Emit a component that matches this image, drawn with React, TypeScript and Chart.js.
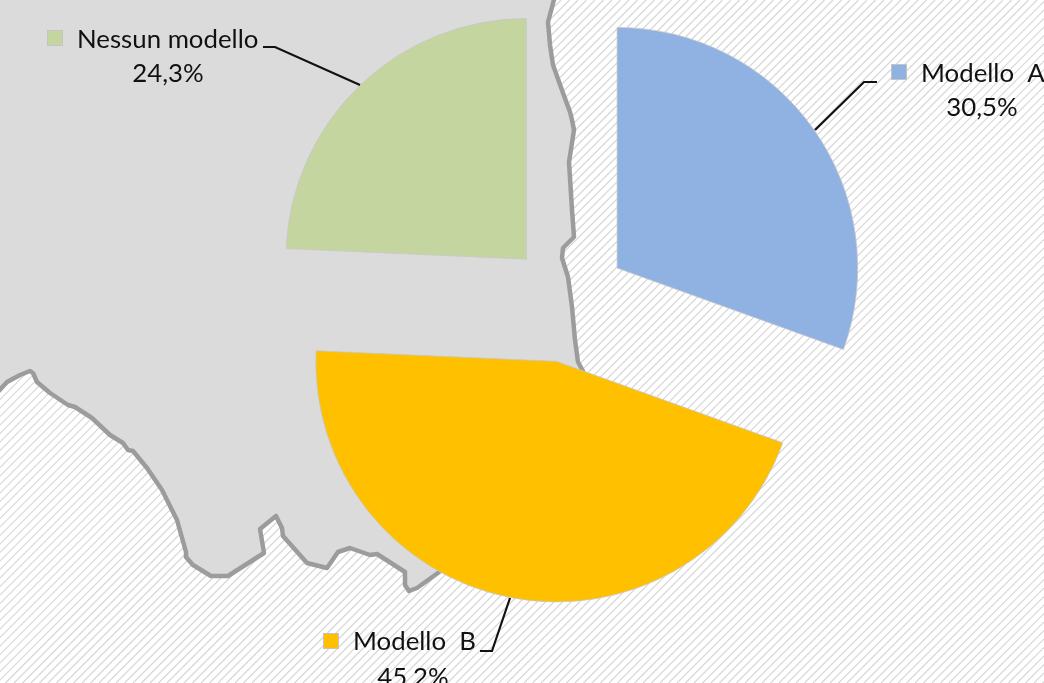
import React, { useEffect, useRef } from "react";
import { Chart, registerables } from "chart.js";

Chart.register(...registerables);

const categories = ["Modello  A", "Modello  B", "Nessun modello"];
const shares = [30.5, 45.2, 24.3];
const shareLabels = ["30,5%", "45,2%", "24,3%"];
const sliceColors = ["#8FB2E2", "#FFC000", "#C4D59F"];

const RADIUS = 240.6;
const EXPLODE = 60;

const upperCoast: number[][] = [
  [555, -4], [548, 22], [550, 45], [553, 65], [563, 93], [570, 112], [572, 120], [574, 130], [569, 162],
  [572, 210], [574, 237], [563, 248], [562, 258], [568, 277], [572, 307], [575, 340], [578, 362], [584, 373],
];
const lowerCoast: number[][] = [
  [-4, 394], [7, 382], [20, 375], [30, 371], [33, 373], [37, 382], [50, 393], [68, 405], [75, 407], [92, 418],
  [110, 435], [123, 443], [128, 450], [133, 451], [147, 468], [162, 490], [177, 520], [186, 552], [186, 557],
  [193, 565], [211, 576], [228, 576], [264, 553], [260, 529], [276, 516], [282, 528], [283, 536], [307, 563],
  [327, 568], [338, 552], [350, 548], [370, 555], [377, 554], [405, 572], [405, 585], [409, 591], [417, 588], [442, 570],
];

const labelLayout = [
  { box: [891, 64], textX: 921, nameY: 74, valueX: 982, valueY: 108, leader: [[877, 82], [864, 82], [815, 130]] },
  { box: [323, 633], textX: 353, nameY: 642, valueX: 413, valueY: 678, leader: [[480, 651], [492, 651], [510, 598]] },
  { box: [47, 30], textX: 77, nameY: 40, valueX: 168, valueY: 74, leader: [[263, 47], [275, 47], [360, 85]] },
];

function trace(ctx: CanvasRenderingContext2D, pts: number[][], move = true) {
  pts.forEach(([x, y], i) => (i === 0 && move ? ctx.moveTo(x, y) : ctx.lineTo(x, y)));
}

const backdrop = {
  id: "backdrop",
  beforeDraw(chart: any) {
    const { ctx, width, height } = chart;
    ctx.save();
    ctx.fillStyle = "#ffffff";
    ctx.fillRect(0, 0, width, height);
    ctx.strokeStyle = "#d6d6d6";
    ctx.lineWidth = 1.2;
    ctx.beginPath();
    for (let c = 0; c < width + height; c += 8.5) {
      ctx.moveTo(c, 0);
      ctx.lineTo(c - height, height);
    }
    ctx.stroke();
    ctx.fillStyle = "#DBDBDB";
    ctx.beginPath();
    ctx.moveTo(-4, -4);
    trace(ctx, upperCoast, false);
    trace(ctx, [...lowerCoast].reverse(), false);
    ctx.closePath();
    ctx.fill();
    ctx.strokeStyle = "#9C9C9C";
    ctx.lineWidth = 4.5;
    ctx.lineJoin = "round";
    ctx.beginPath();
    trace(ctx, upperCoast);
    trace(ctx, lowerCoast);
    ctx.stroke();
    ctx.restore();
  },
};

// Moves each slice out along its own bisector, keeping its radius and its angles.
const explodeSlices = {
  id: "explodeSlices",
  beforeDatasetsDraw(chart: any) {
    const cx = (chart.chartArea.left + chart.chartArea.right) / 2;
    const cy = (chart.chartArea.top + chart.chartArea.bottom) / 2;
    chart.getDatasetMeta(0).data.forEach((arc: any) => {
      const mid = (arc.startAngle + arc.endAngle) / 2;
      arc.x = cx + Math.cos(mid) * EXPLODE;
      arc.y = cy + Math.sin(mid) * EXPLODE;
    });
  },
};

const calloutLabels = {
  id: "calloutLabels",
  afterDatasetsDraw(chart: any) {
    const { ctx } = chart;
    ctx.save();
    ctx.font = '25.8px "Lato"';
    ctx.textBaseline = "middle";
    labelLayout.forEach((l, i) => {
      ctx.strokeStyle = "#111111";
      ctx.lineWidth = 2.2;
      ctx.beginPath();
      trace(ctx, l.leader);
      ctx.stroke();
      ctx.fillStyle = sliceColors[i];
      ctx.fillRect(l.box[0], l.box[1], 16, 16);
      ctx.strokeStyle = "#c4c4c4";
      ctx.lineWidth = 1;
      ctx.strokeRect(l.box[0] + 0.5, l.box[1] + 0.5, 15, 15);
      ctx.fillStyle = "#111111";
      ctx.textAlign = "left";
      ctx.fillText(categories[i], l.textX, l.nameY);
      ctx.textAlign = "center";
      ctx.fillText(shareLabels[i], l.valueX, l.valueY);
    });
    ctx.restore();
  },
};

export default function App() {
  const ref = useRef<HTMLCanvasElement>(null);
  useEffect(() => {
    document.body.style.margin = "0";
    const chart = new Chart(ref.current!, {
      type: "pie",
      data: {
        labels: categories,
        datasets: [
          {
            data: shares,
            backgroundColor: sliceColors,
            borderColor: "#c8c8c8",
            borderWidth: 0.8,
            radius: RADIUS,
          } as any,
        ],
      },
      options: {
        responsive: false,
        animation: false,
        layout: { padding: { left: 92, bottom: 78 } },
        plugins: { legend: { display: false }, tooltip: { enabled: false } },
      },
      plugins: [backdrop, explodeSlices, calloutLabels],
    });
    return () => chart.destroy();
  }, []);
  return <canvas ref={ref} width={1044} height={683} style={{ display: "block" }} />;
}
